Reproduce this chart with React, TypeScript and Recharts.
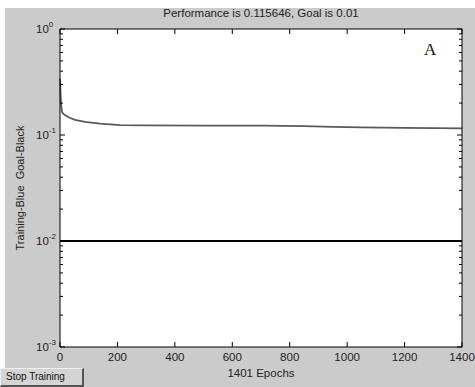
import React from "react";
import { LineChart, Line, XAxis, YAxis, CartesianGrid } from "recharts";

const epochs = [0, 1, 2, 4, 7, 12, 17, 30, 52, 87, 140, 210, 300, 500, 700, 850, 950, 1050, 1200, 1400];
const performance = [0.34, 0.3, 0.24, 0.19, 0.165, 0.158, 0.154, 0.147, 0.139, 0.133, 0.128, 0.124, 0.1232, 0.1228, 0.1225, 0.1215, 0.1195, 0.118, 0.1165, 0.115646];
const goalValue = 0.01;
const xTicks = [0, 200, 400, 600, 800, 1000, 1200, 1400];
const majorY = [0.001, 0.01, 0.1, 1];
const exponents = ["-3", "-2", "-1", "0"];
const minorMult = [2, 3, 4, 5, 6, 7, 8, 9];

const yTicks: number[] = [];
majorY.forEach((m, i) => {
  yTicks.push(m);
  if (i < majorY.length - 1) minorMult.forEach((k) => yTicks.push(+(m * k).toPrecision(3)));
});

const data = epochs.map((e, i) => ({ epoch: e, perf: performance[i], goal: goalValue }));

const FONT = "'Liberation Sans', Arial, sans-serif";
const TXT = "#222";

const isMajor = (v: number) => majorY.some((m) => Math.abs(m - v) / m < 1e-6);

const BottomTick = (p: any) => (
  <g>
    <line x1={p.x} y1={p.y} x2={p.x} y2={p.y - 5} stroke="#000" />
    <text x={p.x} y={p.y + 14} textAnchor="middle" fontSize={11.5} fontFamily={FONT} fill={TXT}>
      {p.payload.value}
    </text>
  </g>
);
const TopTick = (p: any) => <line x1={p.x} y1={p.y} x2={p.x} y2={p.y + 5} stroke="#000" />;

const LeftTick = (p: any) => {
  const v = p.payload.value;
  const maj = isMajor(v);
  const idx = majorY.findIndex((m) => Math.abs(m - v) / m < 1e-6);
  return (
    <g>
      <line x1={p.x} y1={p.y} x2={p.x + (maj ? 5 : 3)} y2={p.y} stroke="#000" />
      {maj && (
        <text x={p.x - 24} y={p.y + 4} fontSize={11.5} fontFamily={FONT} fill={TXT}>
          10
          <tspan dy={-6} fontSize={8}>{exponents[idx]}</tspan>
        </text>
      )}
    </g>
  );
};
const RightTick = (p: any) => {
  const maj = isMajor(p.payload.value);
  return <line x1={p.x} y1={p.y} x2={p.x - (maj ? 5 : 3)} y2={p.y} stroke="#000" />;
};

export default function App() {
  return (
    <div style={{ position: "fixed", left: 0, top: 0, width: 475, height: 387, background: "#fff", overflow: "hidden" }}>
      <div style={{ position: "absolute", left: 5, top: 8, right: 0, bottom: 0, background: "#cbcbcb" }} />
      <div style={{ position: "absolute", left: 0, top: 0 }}>
        <LineChart width={475} height={387} data={data} margin={{ top: 28, right: 12, bottom: 10, left: 5 }}>
          <CartesianGrid fill="#fff" horizontal={false} vertical={false} />
          <XAxis
            dataKey="epoch"
            type="number"
            domain={[0, 1400]}
            ticks={xTicks}
            interval={0}
            height={30}
            tickSize={0}
            tickMargin={0}
            axisLine={{ stroke: "#000" }}
            tickLine={false}
            tick={<BottomTick />}
          />
          <XAxis
            xAxisId="top"
            orientation="top"
            dataKey="epoch"
            type="number"
            domain={[0, 1400]}
            ticks={xTicks}
            interval={0}
            height={1}
            tickSize={0}
            tickMargin={0}
            axisLine={{ stroke: "#000" }}
            tickLine={false}
            tick={<TopTick />}
          />
          <YAxis
            type="number"
            scale="log"
            domain={[0.001, 1]}
            allowDataOverflow
            ticks={yTicks}
            interval={0}
            width={55}
            tickSize={0}
            tickMargin={0}
            axisLine={{ stroke: "#000" }}
            tickLine={false}
            tick={<LeftTick />}
          />
          <YAxis
            yAxisId="right"
            orientation="right"
            type="number"
            scale="log"
            domain={[0.001, 1]}
            allowDataOverflow
            ticks={yTicks}
            interval={0}
            width={1}
            tickSize={0}
            tickMargin={0}
            axisLine={{ stroke: "#000" }}
            tickLine={false}
            tick={<RightTick />}
          />
          <Line
            xAxisId="top"
            yAxisId="right"
            dataKey="goal"
            type="linear"
            stroke="#000"
            strokeWidth={2}
            dot={false}
            isAnimationActive={false}
          />
          <Line
            dataKey="perf"
            type="linear"
            stroke="#5a5a5a"
            strokeWidth={1.8}
            dot={false}
            isAnimationActive={false}
          />
        </LineChart>
      </div>
      <div style={{ position: "absolute", left: 60, width: 402, top: 6, textAlign: "center", fontFamily: FONT, fontSize: 11.5, color: TXT, lineHeight: "14px" }}>
        Performance is 0.115646, Goal is 0.01
      </div>
      <div style={{ position: "absolute", left: 60, width: 402, top: 366, textAlign: "center", fontFamily: FONT, fontSize: 11.5, color: TXT, lineHeight: "14px" }}>
        1401 Epochs
      </div>
      <div style={{ position: "absolute", left: 424, top: 40, fontFamily: "'Liberation Serif', 'Times New Roman', serif", fontSize: 17, color: "#111", lineHeight: "20px" }}>
        A
      </div>
      <div
        style={{
          position: "absolute",
          left: 20,
          top: 188,
          transform: "translate(-50%, -50%) rotate(-90deg)",
          whiteSpace: "nowrap",
          fontFamily: FONT,
          fontSize: 11,
          color: TXT,
          lineHeight: "14px",
        }}
      >
        Training-Blue&nbsp;&nbsp;Goal-Black
      </div>
      <div
        style={{
          position: "absolute",
          left: 0,
          top: 368,
          width: 76,
          height: 16,
          background: "#d4d4d4",
          borderTop: "1px solid #f0f0f0",
          borderLeft: "1px solid #f0f0f0",
          borderRight: "2px solid #555",
          borderBottom: "2px solid #555",
          fontFamily: FONT,
          fontSize: 10,
          color: "#111",
          lineHeight: "16px",
          paddingLeft: 5,
          boxSizing: "content-box",
        }}
      >
        Stop Training
      </div>
    </div>
  );
}
